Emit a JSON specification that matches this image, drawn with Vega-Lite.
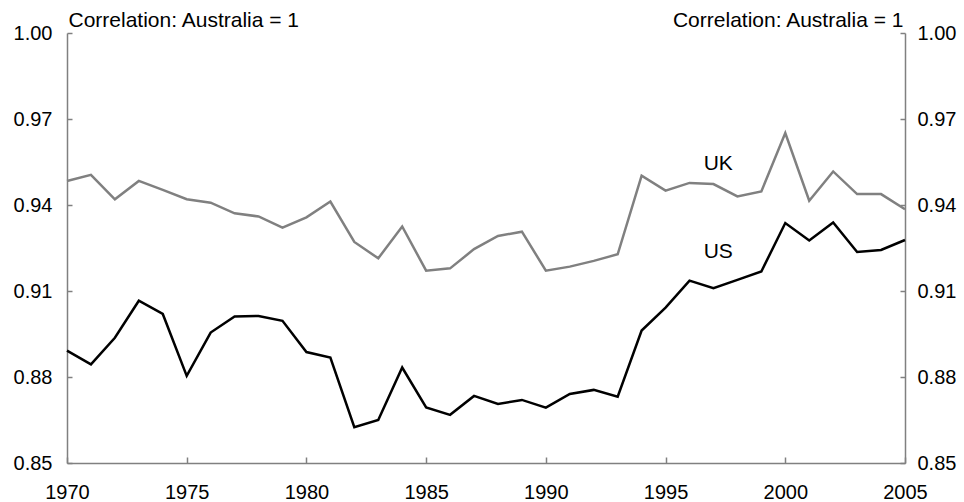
{
  "$schema": "https://vega.github.io/schema/vega-lite/v6.json",
  "width": 838,
  "height": 430,
  "autosize": {"type": "none"},
  "padding": {"left": 67, "top": 33, "right": 59, "bottom": 39},
  "config": {
    "font": "Liberation Sans",
    "view": {"stroke": null},
    "axis": {
      "grid": false,
      "domainColor": "#808080",
      "domainWidth": 1.5,
      "tickColor": "#808080",
      "tickWidth": 1.5,
      "labelColor": "#000000",
      "labelFontSize": 20,
      "labelFont": "Liberation Sans",
      "titleFont": "Liberation Sans",
      "titleFontSize": 21,
      "titleFontWeight": "normal",
      "titleColor": "#000000"
    }
  },
  "datasets": {
    "series": [
      {"year": 1970, "country": "UK", "value": 0.9484},
      {"year": 1971, "country": "UK", "value": 0.9505},
      {"year": 1972, "country": "UK", "value": 0.9420},
      {"year": 1973, "country": "UK", "value": 0.9484},
      {"year": 1974, "country": "UK", "value": 0.9453},
      {"year": 1975, "country": "UK", "value": 0.9420},
      {"year": 1976, "country": "UK", "value": 0.9408},
      {"year": 1977, "country": "UK", "value": 0.9371},
      {"year": 1978, "country": "UK", "value": 0.9360},
      {"year": 1979, "country": "UK", "value": 0.9321},
      {"year": 1980, "country": "UK", "value": 0.9357},
      {"year": 1981, "country": "UK", "value": 0.9412},
      {"year": 1982, "country": "UK", "value": 0.9271},
      {"year": 1983, "country": "UK", "value": 0.9214},
      {"year": 1984, "country": "UK", "value": 0.9325},
      {"year": 1985, "country": "UK", "value": 0.9171},
      {"year": 1986, "country": "UK", "value": 0.9179},
      {"year": 1987, "country": "UK", "value": 0.9246},
      {"year": 1988, "country": "UK", "value": 0.9292},
      {"year": 1989, "country": "UK", "value": 0.9307},
      {"year": 1990, "country": "UK", "value": 0.9171},
      {"year": 1991, "country": "UK", "value": 0.9185},
      {"year": 1992, "country": "UK", "value": 0.9205},
      {"year": 1993, "country": "UK", "value": 0.9228},
      {"year": 1994, "country": "UK", "value": 0.9502},
      {"year": 1995, "country": "UK", "value": 0.9450},
      {"year": 1996, "country": "UK", "value": 0.9477},
      {"year": 1997, "country": "UK", "value": 0.9473},
      {"year": 1998, "country": "UK", "value": 0.9430},
      {"year": 1999, "country": "UK", "value": 0.9447},
      {"year": 2000, "country": "UK", "value": 0.9651},
      {"year": 2001, "country": "UK", "value": 0.9415},
      {"year": 2002, "country": "UK", "value": 0.9517},
      {"year": 2003, "country": "UK", "value": 0.9438},
      {"year": 2004, "country": "UK", "value": 0.9438},
      {"year": 2005, "country": "UK", "value": 0.9385},
      {"year": 1970, "country": "US", "value": 0.8892},
      {"year": 1971, "country": "US", "value": 0.8844},
      {"year": 1972, "country": "US", "value": 0.8937},
      {"year": 1973, "country": "US", "value": 0.9066},
      {"year": 1974, "country": "US", "value": 0.9020},
      {"year": 1975, "country": "US", "value": 0.8804},
      {"year": 1976, "country": "US", "value": 0.8955},
      {"year": 1977, "country": "US", "value": 0.9011},
      {"year": 1978, "country": "US", "value": 0.9013},
      {"year": 1979, "country": "US", "value": 0.8996},
      {"year": 1980, "country": "US", "value": 0.8887},
      {"year": 1981, "country": "US", "value": 0.8868},
      {"year": 1982, "country": "US", "value": 0.8625},
      {"year": 1983, "country": "US", "value": 0.8650},
      {"year": 1984, "country": "US", "value": 0.8833},
      {"year": 1985, "country": "US", "value": 0.8694},
      {"year": 1986, "country": "US", "value": 0.8668},
      {"year": 1987, "country": "US", "value": 0.8734},
      {"year": 1988, "country": "US", "value": 0.8706},
      {"year": 1989, "country": "US", "value": 0.8720},
      {"year": 1990, "country": "US", "value": 0.8693},
      {"year": 1991, "country": "US", "value": 0.8741},
      {"year": 1992, "country": "US", "value": 0.8755},
      {"year": 1993, "country": "US", "value": 0.8731},
      {"year": 1994, "country": "US", "value": 0.8962},
      {"year": 1995, "country": "US", "value": 0.9042},
      {"year": 1996, "country": "US", "value": 0.9136},
      {"year": 1997, "country": "US", "value": 0.9110},
      {"year": 1998, "country": "US", "value": 0.9139},
      {"year": 1999, "country": "US", "value": 0.9168},
      {"year": 2000, "country": "US", "value": 0.9337},
      {"year": 2001, "country": "US", "value": 0.9276},
      {"year": 2002, "country": "US", "value": 0.9339},
      {"year": 2003, "country": "US", "value": 0.9236},
      {"year": 2004, "country": "US", "value": 0.9243},
      {"year": 2005, "country": "US", "value": 0.9278}
    ],
    "labels": [
      {"year": 1997.2, "value": 0.9544, "label": "UK"},
      {"year": 1997.2, "value": 0.9236, "label": "US"}
    ]
  },
  "layer": [
    {
      "data": {"name": "series"},
      "mark": {"type": "line", "strokeWidth": 2.5},
      "encoding": {
        "x": {
          "field": "year", "type": "quantitative",
          "scale": {"domain": [1970, 2005], "nice": false, "zero": false},
          "axis": {
            "title": null, "values": [1970, 1975, 1980, 1985, 1990, 1995, 2000, 2005],
            "format": "d", "tickSize": -6, "labelPadding": 25, "labelFlush": false
          }
        },
        "y": {
          "field": "value", "type": "quantitative",
          "scale": {"domain": [0.85, 1.0], "nice": false, "zero": false},
          "axis": {
            "orient": "left", "values": [0.85, 0.88, 0.91, 0.94, 0.97, 1.0],
            "format": ".2f", "tickSize": -5, "labelPadding": 20,
            "title": "Correlation: Australia = 1", "titleAngle": 0,
            "titleAlign": "left", "titleBaseline": "alphabetic",
            "titleX": 1, "titleY": -7
          }
        },
        "color": {
          "field": "country", "type": "nominal",
          "scale": {"domain": ["UK", "US"], "range": ["#808080", "#000000"]},
          "legend": null
        }
      }
    },
    {
      "data": {"name": "labels"},
      "mark": {"type": "text", "fontSize": 21, "color": "#000000", "align": "center", "baseline": "middle"},
      "encoding": {
        "x": {
          "field": "year", "type": "quantitative",
          "scale": {"domain": [1970, 2005], "nice": false, "zero": false},
          "axis": {
            "title": null, "values": [1970, 1975, 1980, 1985, 1990, 1995, 2000, 2005],
            "format": "d", "tickSize": -6, "labelPadding": 25, "labelFlush": false
          }
        },
        "y": {
          "field": "value", "type": "quantitative",
          "scale": {"domain": [0.85, 1.0], "nice": false, "zero": false},
          "axis": {
            "orient": "right", "values": [0.85, 0.88, 0.91, 0.94, 0.97, 1.0],
            "format": ".2f", "tickSize": -5, "labelPadding": 17,
            "title": "Correlation: Australia = 1", "titleAngle": 0,
            "titleAlign": "right", "titleBaseline": "alphabetic",
            "titleX": -2, "titleY": -7
          }
        },
        "text": {"field": "label"}
      }
    }
  ],
  "resolve": {"axis": {"y": "independent"}}
}
